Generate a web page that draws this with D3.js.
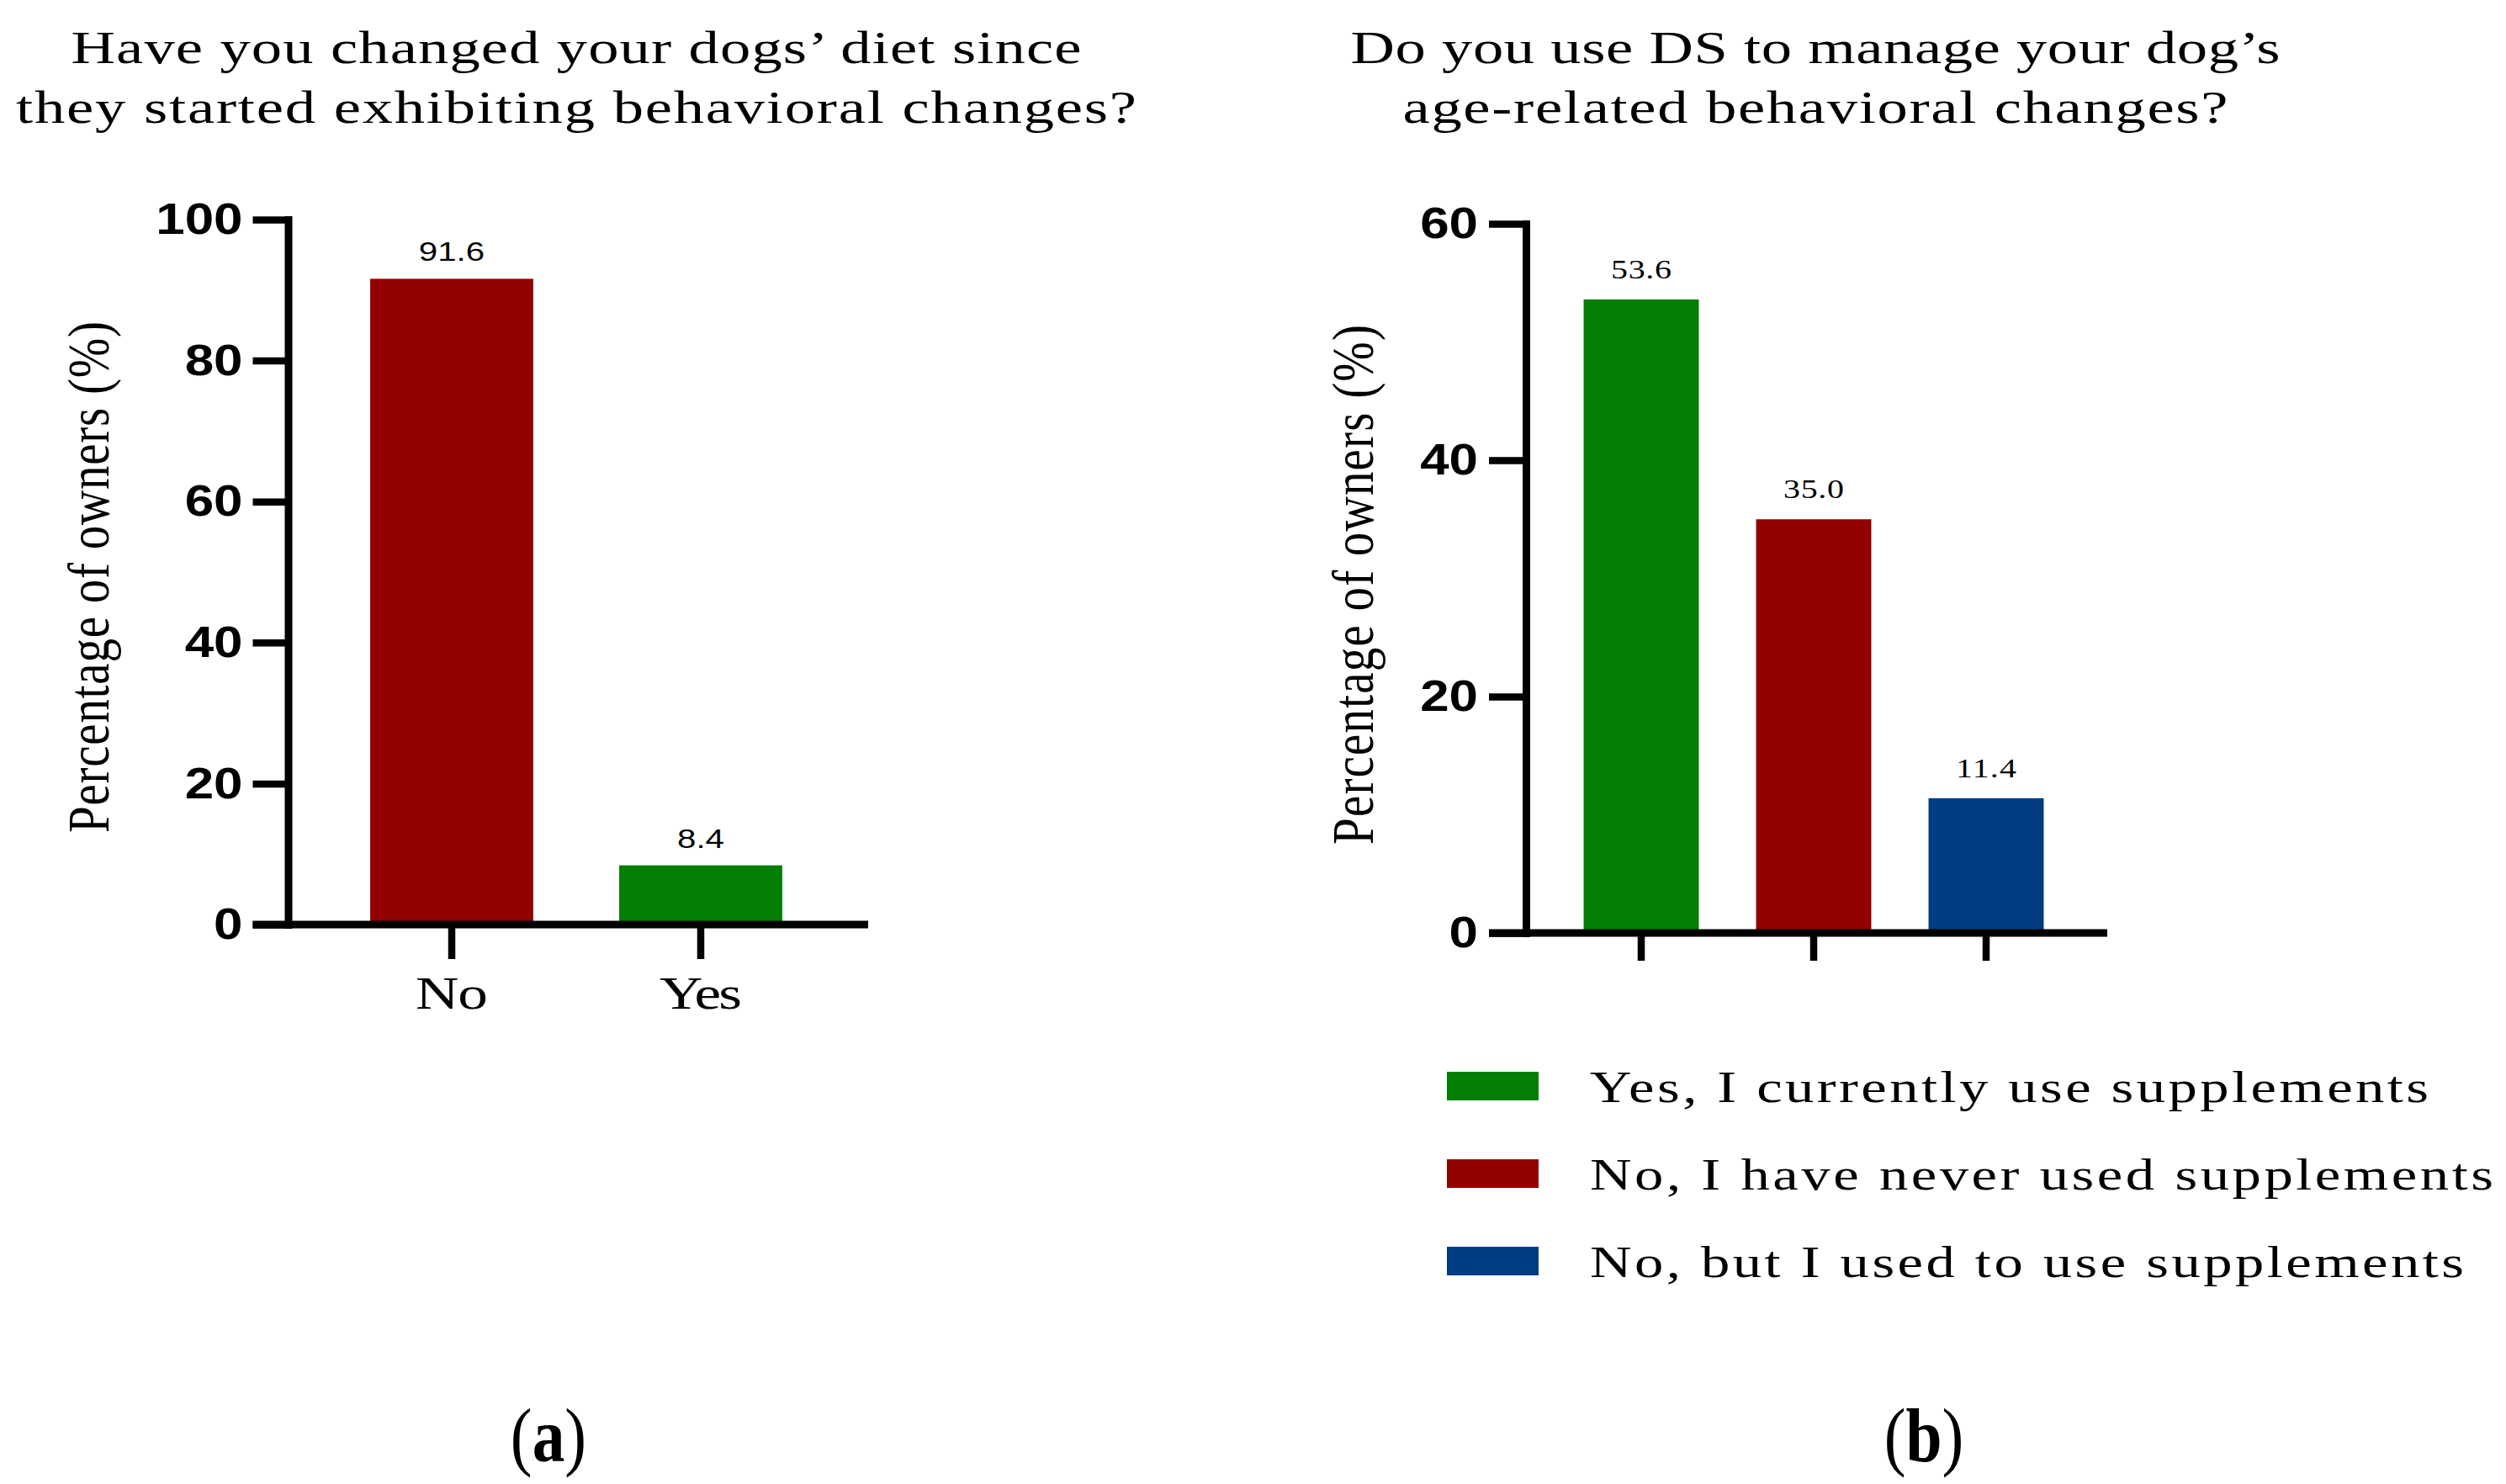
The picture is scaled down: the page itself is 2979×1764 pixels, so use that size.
<!DOCTYPE html>
<html>
<head>
<meta charset="utf-8">
<script src="https://cdn.jsdelivr.net/npm/d3@7"></script>
<style>
  body { margin: 0; background: #fff; }
</style>
</head>
<body>
<script>
// panel (a)
var dietCategories = ["No", "Yes"];
var dietValues = [91.6, 8.4];
var dietColors = ["#930000", "#037f03"];
var dietTicks = [0, 20, 40, 60, 80, 100];
var dietTitle = ["Have you changed your dogs\u2019 diet since", "they started exhibiting behavioral changes?"];

// panel (b)
var dsCategories = ["Yes, I currently use supplements", "No, I have never used supplements", "No, but I used to use supplements"];
var dsValues = [53.6, 35.0, 11.4];
var dsColors = ["#037f03", "#930000", "#003d80"];
var dsTicks = [0, 20, 40, 60];
var dsTitle = ["Do you use DS to manage your dog\u2019s", "age-related behavioral changes?"];

var yLabel = "Percentage of owners (%)";

var serif = "'Liberation Serif', 'Times New Roman', serif";
var sans = "'Liberation Sans', Arial, sans-serif";
var SX = 1.32; // the source figure is a bit wider than tall

var svg = d3.select("body").append("svg")
  .attr("width", 2979).attr("height", 1764);

// put text at (x,y), stretch glyphs by sx, optionally fit spacing to a width
function place(t, x, y, sx, width) {
  t.attr("x", 0).attr("y", 0)
    .attr("transform", "translate(" + x + "," + y + ") scale(" + sx + ",1)");
  if (width) t.attr("textLength", width / sx).attr("lengthAdjust", "spacing");
  return t;
}

function panel(o) {
  var g = svg.append("g");
  var y = d3.scaleLinear().domain([0, o.max]).range([o.bottom, o.top]);
  var x = d3.scaleBand().domain(o.cats).range(o.band)
    .paddingInner(o.pad).paddingOuter(o.pad / 2);

  // bars
  g.selectAll("rect.bar").data(o.values).join("rect")
    .attr("class", "bar")
    .attr("x", function(d, i) { return x(o.cats[i]); })
    .attr("width", x.bandwidth())
    .attr("y", function(d) { return y(d); })
    .attr("height", function(d) { return y(0) - y(d); })
    .attr("fill", function(d, i) { return o.colors[i]; });

  // value labels
  g.selectAll("text.val").data(o.values).join("text")
    .attr("class", "val")
    .attr("text-anchor", "middle")
    .style("font-family", o.valFont)
    .style("font-size", o.valSize + "px")
    .text(function(d) { return d.toFixed(1); })
    .each(function(d, i) {
      place(d3.select(this), x(o.cats[i]) + x.bandwidth() / 2, y(d) - o.valGap, o.valSx, o.valWidth);
    });

  // y axis
  var ya = g.append("g")
    .attr("transform", "translate(" + o.axisX + ",0)")
    .call(d3.axisLeft(y).tickValues(o.ticks).tickSize(o.tick).tickSizeOuter(0).tickPadding(o.tickPad));
  ya.select(".domain").attr("stroke", "#000").attr("stroke-width", 9).attr("stroke-linecap", "square");
  ya.selectAll(".tick line").attr("stroke", "#000").attr("stroke-width", 8.5);
  ya.selectAll(".tick text")
    .attr("fill", "#000")
    .style("font-family", sans).style("font-size", "52px").style("font-weight", "bold")
    .each(function() {
      var t = d3.select(this);
      var tx = +t.attr("x");
      t.attr("x", 0).attr("transform", "translate(" + tx + ",0) scale(1.19,1)");
    });

  // x axis baseline
  g.append("line")
    .attr("x1", o.axisX - o.tick).attr("x2", o.right)
    .attr("y1", y(0)).attr("y2", y(0))
    .attr("stroke", "#000").attr("stroke-width", 9);

  var xa = g.append("g")
    .attr("transform", "translate(0," + y(0) + ")")
    .call(d3.axisBottom(x).tickSize(o.xTick).tickSizeOuter(0));
  xa.select(".domain").remove();
  xa.selectAll(".tick line").attr("stroke", "#000").attr("stroke-width", 8.5);
  if (o.xLabels) {
    xa.selectAll(".tick text")
      .attr("fill", "#000").attr("dy", null)
      .style("font-family", serif).style("font-size", "54px")
      .each(function(d, i) { place(d3.select(this), 0, o.xLabelY, SX, o.xLabelWidths[i]); });
  } else {
    xa.selectAll(".tick text").remove();
  }

  // y label
  g.append("text")
    .attr("text-anchor", "middle")
    .style("font-family", serif).style("font-size", "57px")
    .attr("transform", "translate(" + o.labelX + "," + o.labelY + ") rotate(-90) scale(1,1.22)")
    .attr("textLength", o.labelLen).attr("lengthAdjust", "spacing")
    .text(yLabel);

  // title
  g.selectAll("text.title").data(o.title).join("text")
    .attr("class", "title")
    .attr("text-anchor", "middle")
    .style("font-family", serif).style("font-size", "55px")
    .text(function(d) { return d; })
    .each(function(d, i) { place(d3.select(this), o.titleX, 75 + i * 71, SX, o.titleWidths[i]); });

  // panel letter
  var lt = g.append("text")
    .attr("text-anchor", "middle")
    .style("font-family", serif).style("font-size", "90px");
  lt.append("tspan").text("(");
  lt.append("tspan").style("font-weight", "bold").text(o.letter);
  lt.append("tspan").text(")");
  place(lt, o.letterX, 1737, 0.86);

  return { x: x, y: y };
}

panel({
  cats: dietCategories, values: dietValues, colors: dietColors, ticks: dietTicks,
  max: 100, top: 261, bottom: 1099, axisX: 342.5, tick: 42, tickPad: 12,
  band: [389, 981], pad: 0.345, right: 1032, xTick: 41,
  xLabels: true, xLabelY: 100, xLabelWidths: [86, 98],
  valFont: sans, valSize: 32, valSx: 1.26, valWidth: null, valGap: 21,
  labelX: 129, labelY: 686, labelLen: 608,
  title: dietTitle, titleX: 685, titleWidths: [1201, 1332],
  letter: "a", letterX: 652
});

panel({
  cats: dsCategories, values: dsValues, colors: dsColors, ticks: dsTicks,
  max: 60, top: 266, bottom: 1109, axisX: 1814, tick: 44, tickPad: 13,
  band: [1848.5, 2463.5], pad: 0.332, right: 2505, xTick: 33,
  xLabels: false,
  valFont: serif, valSize: 32, valSx: 1.25, valWidth: 72, valGap: 25,
  labelX: 1632, labelY: 695, labelLen: 618,
  title: dsTitle, titleX: 2158, titleWidths: [1105, 981],
  letter: "b", letterX: 2287
});

// legend for panel (b)
var legendWidths = [997, 1074, 1039];
var legend = svg.append("g");
var rows = legend.selectAll("g").data(dsCategories).join("g")
  .attr("transform", function(d, i) { return "translate(1720," + (1274 + i * 104) + ")"; });
rows.append("rect")
  .attr("width", 109).attr("height", 34)
  .attr("fill", function(d, i) { return dsColors[i]; });
rows.append("text")
  .style("font-family", serif).style("font-size", "52px")
  .text(function(d) { return d; })
  .each(function(d, i) { place(d3.select(this), 170, 36, SX, legendWidths[i]); });
</script>
</body>
</html>
